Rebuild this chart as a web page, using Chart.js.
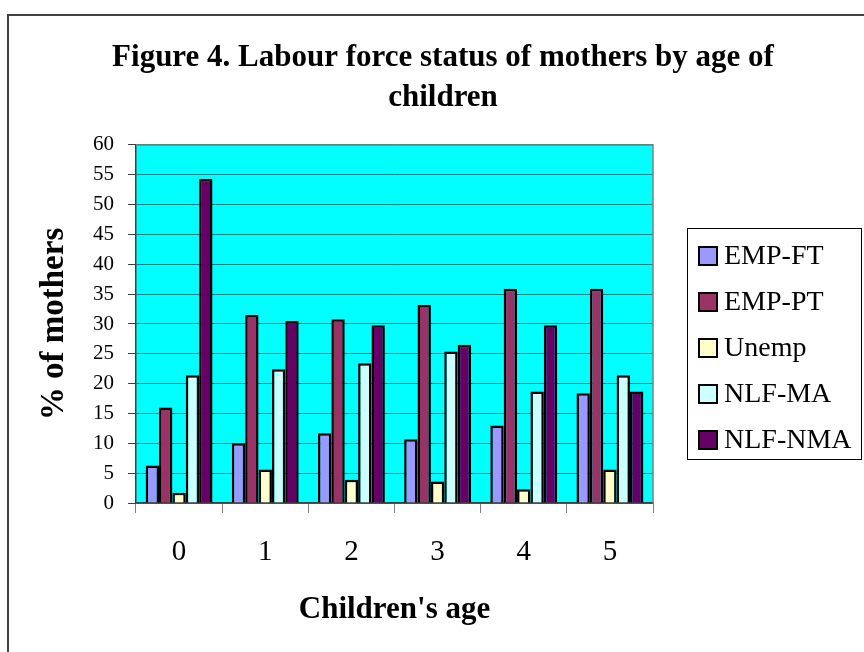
<!DOCTYPE html>
<html>
<head>
<meta charset="utf-8">
<script src="https://cdn.jsdelivr.net/npm/chart.js@4.4.1/dist/chart.umd.min.js"></script>
<style>
  html, body { margin: 0; padding: 0; background: #fff; }
  #wrap { width: 864px; height: 652px; }
</style>
</head>
<body>
<div id="wrap"><canvas id="chart" width="864" height="652"></canvas></div>
<script>
// Children's age categories
const ages = ["0", "1", "2", "3", "4", "5"];

// % of mothers
const empFT = [6.3, 10.0, 11.7, 10.7, 13.0, 18.4];
const empPT = [16.0, 31.5, 30.8, 33.2, 35.9, 35.9];
const unemp = [1.7, 5.6, 3.9, 3.6, 2.3, 5.6];
const nlfMA = [21.4, 22.4, 23.4, 25.4, 18.7, 21.4];
const nlfNMA = [54.3, 30.5, 29.8, 26.5, 29.8, 18.7];

const yTicks = [0, 5, 10, 15, 20, 25, 30, 35, 40, 45, 50, 55, 60];

const serif = "'Liberation Serif', 'Times New Roman', serif";
Chart.defaults.font.family = serif;
Chart.defaults.color = "#000";

// background, outer frame, plot area fill and the legend box
const framePlugin = {
  id: "frame",
  beforeDraw(chart) {
    const ctx = chart.ctx;
    const a = chart.chartArea;
    ctx.save();
    ctx.fillStyle = "#fff";
    ctx.fillRect(0, 0, chart.width, chart.height);
    ctx.strokeStyle = "#404040";
    ctx.lineWidth = 2;
    ctx.beginPath();
    ctx.moveTo(8, chart.height);
    ctx.lineTo(8, 15);
    ctx.lineTo(chart.width, 15);
    ctx.stroke();
    ctx.fillStyle = "#00ffff";
    ctx.fillRect(a.left, a.top, a.right - a.left, a.bottom - a.top);
    ctx.restore();
  },
  afterDraw(chart) {
    const ctx = chart.ctx;
    const a = chart.chartArea;
    ctx.save();
    ctx.strokeStyle = "#808080";
    ctx.lineWidth = 1.5;
    ctx.beginPath();
    ctx.moveTo(a.left, a.top);
    ctx.lineTo(a.right, a.top);
    ctx.lineTo(a.right, a.bottom);
    ctx.stroke();

    // legend
    const lx = 687, ly = 228, lw = 174, lh = 231;
    ctx.strokeStyle = "#000";
    ctx.lineWidth = 1;
    ctx.strokeRect(lx + 0.5, ly + 0.5, lw, lh);
    ctx.font = "28px " + serif;
    ctx.textBaseline = "middle";
    ctx.textAlign = "left";
    chart.data.datasets.forEach((ds, i) => {
      const cy = 256 + i * 46;
      ctx.fillStyle = ds.backgroundColor;
      ctx.fillRect(699, cy - 9, 18, 18);
      ctx.strokeStyle = "#000";
      ctx.lineWidth = 2;
      ctx.strokeRect(699, cy - 9, 18, 18);
      ctx.fillStyle = "#000";
      ctx.fillText(ds.label, 724, cy + 1);
    });
    ctx.restore();
  }
};

function barSet(label, data, color) {
  return {
    label: label,
    data: data,
    backgroundColor: color,
    borderColor: "#000",
    borderWidth: 2.5,
    categoryPercentage: 0.776,
    barPercentage: 1.0
  };
}

const ctx = document.getElementById("chart").getContext("2d");
new Chart(ctx, {
  type: "bar",
  data: {
    labels: ages,
    datasets: [
      barSet("EMP-FT", empFT, "#9999ff"),
      barSet("EMP-PT", empPT, "#993366"),
      barSet("Unemp", unemp, "#ffffcc"),
      barSet("NLF-MA", nlfMA, "#ccffff"),
      barSet("NLF-NMA", nlfNMA, "#660066")
    ]
  },
  options: {
    responsive: false,
    animation: false,
    layout: { padding: { left: 22, right: 0, top: 0, bottom: 0 } },
    plugins: {
      legend: { display: false },
      tooltip: { enabled: false },
      title: {
        display: true,
        text: ["Figure 4. Labour force status of mothers by age of", "children"],
        font: { size: 31, weight: "bold", family: serif, lineHeight: 1.29 },
        color: "#000",
        padding: { top: 38, bottom: 27 }
      }
    },
    scales: {
      x: {
        grid: {
          offset: true,
          drawOnChartArea: false,
          drawTicks: true,
          tickLength: 10,
          tickColor: "#808080"
        },
        border: { color: "#404040", width: 1.5 },
        ticks: { font: { size: 29 }, padding: 22, color: "#000" },
        title: {
          display: true,
          text: "Children's age",
          font: { size: 31, weight: "bold" },
          color: "#000",
          padding: { top: 0, bottom: 23 }
        },
        afterFit(scale) { scale.height = 149; }
      },
      y: {
        min: 0,
        max: 60,
        afterBuildTicks(scale) {
          scale.ticks = yTicks.map((v) => ({ value: v }));
        },
        grid: {
          color: "#008080",
          lineWidth: 1,
          tickLength: 8,
          tickColor: "#404040"
        },
        border: { color: "#404040", width: 1.5 },
        ticks: { font: { size: 21 }, padding: 14, color: "#000" },
        title: {
          display: true,
          text: "% of mothers",
          font: { size: 33, weight: "bold" },
          color: "#000",
          padding: { top: 13, bottom: 0 }
        },
        afterFit(scale) { scale.width = 114; }
      },
      // empty axis that keeps the room used by the legend
      legendSpace: {
        type: "linear",
        position: "right",
        display: true,
        grid: { display: false },
        border: { display: false },
        ticks: { display: false },
        afterFit(scale) { scale.width = 211; }
      }
    }
  },
  plugins: [framePlugin]
});
</script>
</body>
</html>
